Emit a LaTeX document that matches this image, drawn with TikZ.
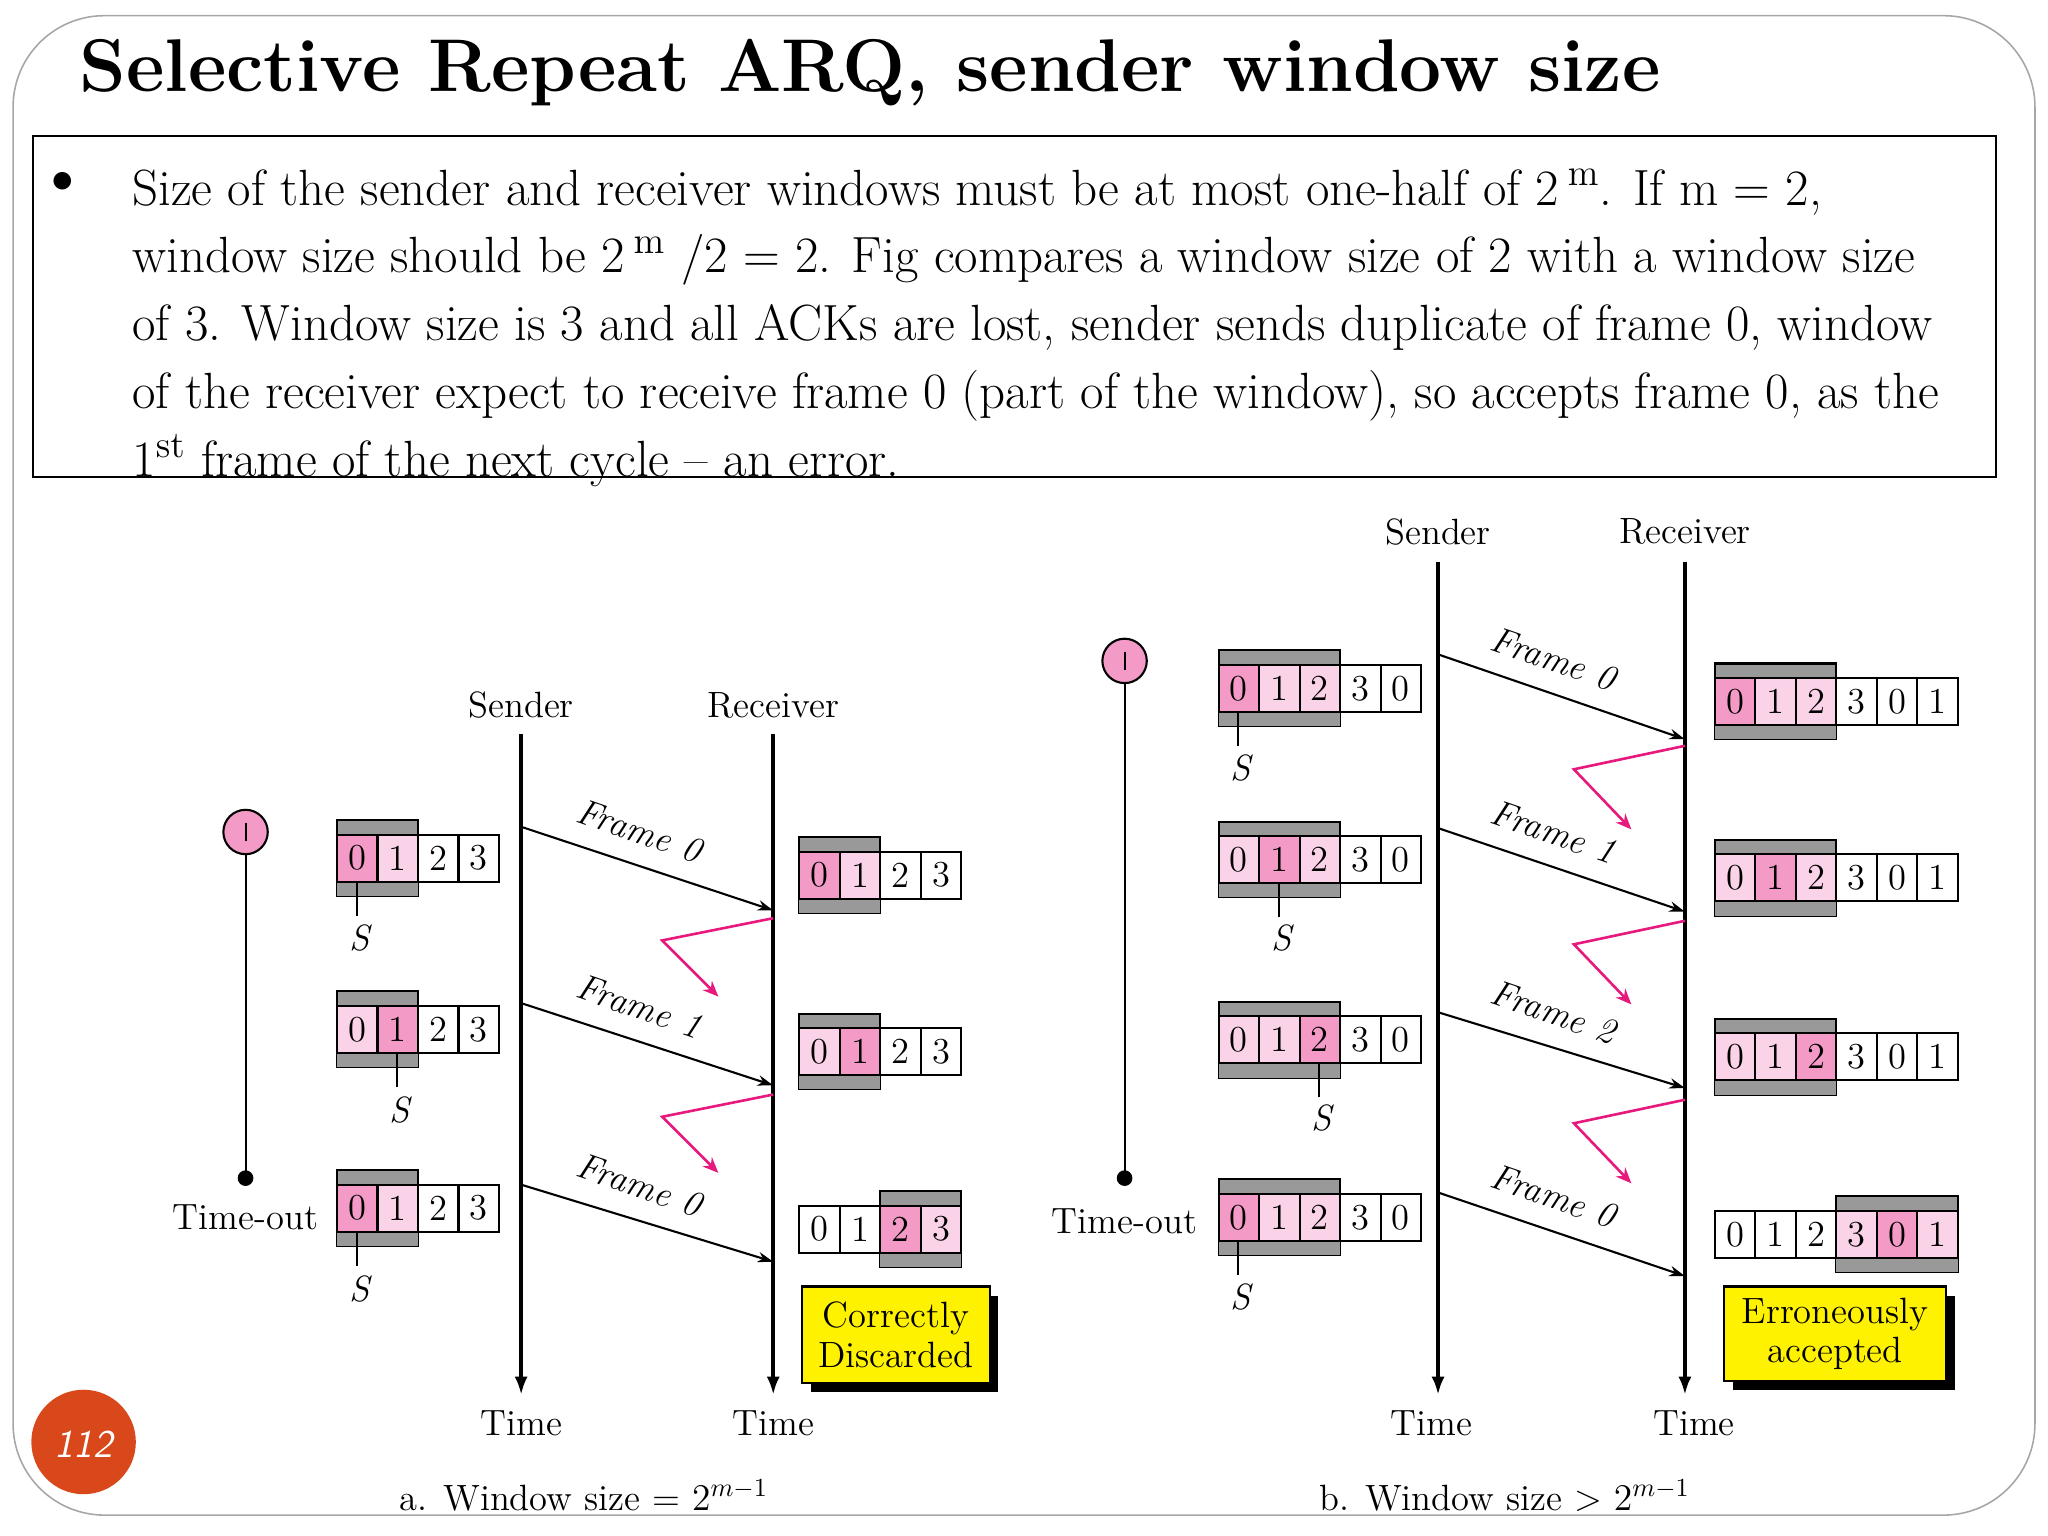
\documentclass[tikz,border=0pt]{standalone}
\usetikzlibrary{arrows.meta,calc}
\begin{document}
\definecolor{D}{HTML}{F39AC7}
\definecolor{L}{HTML}{FBD3E8}
\definecolor{W}{HTML}{FFFFFF}
\definecolor{barg}{HTML}{999999}
\definecolor{ackc}{HTML}{E8197D}
\definecolor{org}{HTML}{D9481B}
\newcommand\win[5]{%
  \fill[barg] ({#1+#4*31},{#2-29}) rectangle ({#1+#5*31},{#2-18});
  \draw[line width=0.8pt] ({#1+#4*31},{#2-29}) rectangle ({#1+#5*31},{#2+29});
  \fill[barg] ({#1+#4*31},{#2+18}) rectangle ({#1+#5*31},{#2+29});
  \foreach \t/\c [count=\i from 0] in {#3}{
    \draw[fill=\c,line width=0.8pt] ({#1+\i*31},{#2-18}) rectangle ({#1+\i*31+31},{#2+18});
    \node[dig] at ({#1+\i*31+15.5},#2) {\t};}
}
\newcommand\smark[4]{% x, y, idx, label y
  \draw[line width=0.8pt] ({#1+#3*31+15},{#2+18}) -- ({#1+#3*31+15},{#2+44});
  \node[font=\fontsize{14}{14}\selectfont\itshape] at ({#1+#3*31+17},#4) {S};}
\begin{tikzpicture}[x=0.5pt,y=-0.5pt,
  dig/.style={font=\fontsize{14}{14}\selectfont,inner sep=0pt},
  lab/.style={font=\fontsize{14}{14}\selectfont},
  tl/.style={line width=1.6pt,-{Latex[length=7pt,width=5pt]}},
  fr/.style={line width=0.8pt,-{Stealth[length=6pt,width=4pt]}},
  ack/.style={ackc,line width=1pt,-{Stealth[length=6pt,width=5pt]}},
  flab/.style={font=\fontsize{14}{14}\selectfont,rotate=-19,inner sep=1pt},
  note/.style={draw=black,fill=yellow,line width=0.8pt,align=center,font=\fontsize{14}{15}\selectfont,inner sep=2pt}]
\useasboundingbox (0,0) rectangle (1568,1176);
\draw[gray!70,line width=0.6pt,rounded corners=35pt] (10,12) rectangle (1558,1160);
\node[anchor=base west,font=\fontsize{28.6}{29}\selectfont\bfseries] (title) at (54,70) {Selective Repeat ARQ, sender window size};
\draw[line width=0.8pt] (25,104) rectangle (1528,365);
\node[font=\fontsize{16}{16}\selectfont] (bul) at (48,140) {$\bullet$};
\begin{scope}[every node/.style={anchor=base west,font=\fontsize{19.5}{16}\selectfont,inner sep=0pt}]
\node (l1) at (101,157) {Size of the sender and receiver windows must be at most one-half of 2\,$^{\mathrm{m}}$. If m = 2,};
\node (l2) at (101,209) {window size should be 2\,$^{\mathrm{m}}$ /2 = 2. Fig compares a window size of 2 with a window size};
\node (l3) at (101,261) {of 3. Window size is 3 and all ACKs are lost, sender sends duplicate of frame 0, window};
\node (l4) at (101,313) {of the receiver expect to receive frame 0 (part of the window), so accepts frame 0, as the};
\node (l5) at (101,365) {1$^{\mathrm{st}}$ frame of the next cycle -- an error.};
\end{scope}
\fill[org] (64,1104) circle (40);
\node[white,font=\fontsize{15}{15}\selectfont\sffamily\itshape] (pg) at (64,1106) {112};
% ---------- a ----------
\node[lab] (sa) at (399,540) {Sender};
\node[lab] (ra) at (592,540) {Receiver};
\coordinate (sat) at (399,562); \coordinate (sab) at (399,1068);
\coordinate (rat) at (592,562); \coordinate (rab) at (592,1068);
\draw[tl] (sat) -- (sab); \draw[tl] (rat) -- (rab);
\node[lab] (ta1) at (399,1090) {Time};
\node[lab] (ta2) at (592,1090) {Time};
\node[lab] (capa) at (447,1145) {a. Window size = $2^{m-1}$};
\foreach \ys/\ye/\t [count=\k] in {633/697/Frame 0,768/831/Frame 1,907/966/Frame 0}{
  \coordinate (fa\k s) at (399,\ys); \coordinate (fa\k e) at (592,\ye);
  \draw[fr] (fa\k s) -- (fa\k e);
  \node[flab] at ($(fa\k s)!0.5!(fa\k e)+(-6,-29)$) {\it \t};}
\foreach \y [count=\k] in {703,838}{
  \coordinate (aa\k) at (592,\y); \coordinate (ab\k) at (507,\y+17); \coordinate (ac\k) at (550,\y+60);
  \draw[ack] (aa\k) -- (ab\k) -- (ac\k);}
\win{258}{657}{0/D,1/L,2/W,3/W}{0}{2}\smark{258}{657}{0}{718}
\win{258}{788}{0/L,1/D,2/W,3/W}{0}{2}\smark{258}{788}{1}{850}
\win{258}{925}{0/D,1/L,2/W,3/W}{0}{2}\smark{258}{925}{0}{987}
\win{612}{670}{0/D,1/L,2/W,3/W}{0}{2}
\win{612}{805}{0/L,1/D,2/W,3/W}{0}{2}
\win{612}{941}{0/W,1/W,2/D,3/L}{2}{4}
\fill (621,992) rectangle (764,1066);
\node[note,minimum width=72pt,minimum height=37pt] (cd) at (686,1022) {Correctly\\Discarded};
\node[draw,fill=D,circle,minimum size=17pt,inner sep=0pt,line width=0.8pt] (tma) at (188,637) {};
\draw[line width=0.8pt] (188,630) -- (188,644);
\coordinate (tda) at (188,902);
\draw[line width=0.8pt] (tma) -- (tda); \fill (tda) circle (6);
\node[lab] (toa) at (188,932) {Time-out};
% ---------- b ----------
\node[lab] (sb) at (1101,407) {Sender};
\node[lab] (rb) at (1290,407) {Receiver};
\coordinate (sbt) at (1101,430); \coordinate (sbb) at (1101,1068);
\coordinate (rbt) at (1290,430); \coordinate (rbb) at (1290,1068);
\draw[tl] (sbt) -- (sbb); \draw[tl] (rbt) -- (rbb);
\node[lab] (tb1) at (1096,1090) {Time};
\node[lab] (tb2) at (1297,1090) {Time};
\node[lab] (capb) at (1152,1145) {b. Window size > $2^{m-1}$};
\foreach \ys/\ye/\t [count=\k] in {501/566/Frame 0,634/698/Frame 1,775/833/Frame 2,913/977/Frame 0}{
  \coordinate (fb\k s) at (1101,\ys); \coordinate (fb\k e) at (1290,\ye);
  \draw[fr] (fb\k s) -- (fb\k e);
  \node[flab] at ($(fb\k s)!0.5!(fb\k e)+(-6,-29)$) {\it \t};}
\foreach \y [count=\k] in {571,705,842}{
  \coordinate (ba\k) at (1290,\y); \coordinate (bb\k) at (1205,\y+18); \coordinate (bc\k) at (1249,\y+64);
  \draw[ack] (ba\k) -- (bb\k) -- (bc\k);}
\win{933}{527}{0/D,1/L,2/L,3/W,0/W}{0}{3}\smark{933}{527}{0}{588}
\win{933}{658}{0/L,1/D,2/L,3/W,0/W}{0}{3}\smark{933}{658}{1}{718}
\win{933}{796}{0/L,1/L,2/D,3/W,0/W}{0}{3}\smark{933}{796}{2}{856}
\win{933}{932}{0/D,1/L,2/L,3/W,0/W}{0}{3}\smark{933}{932}{0}{993}
\win{1313}{537}{0/D,1/L,2/L,3/W,0/W,1/W}{0}{3}
\win{1313}{672}{0/L,1/D,2/L,3/W,0/W,1/W}{0}{3}
\win{1313}{809}{0/L,1/L,2/D,3/W,0/W,1/W}{0}{3}
\win{1313}{945}{0/W,1/W,2/W,3/L,0/D,1/L}{3}{6}
\fill (1327,992) rectangle (1497,1064);
\node[note,minimum width=85pt,minimum height=36pt] (ea) at (1405,1021) {Erroneously\\accepted};
\node[draw,fill=D,circle,minimum size=17pt,inner sep=0pt,line width=0.8pt] (tmb) at (861,506) {};
\draw[line width=0.8pt] (861,499) -- (861,513);
\coordinate (tdb) at (861,902);
\draw[line width=0.8pt] (tmb) -- (tdb); \fill (tdb) circle (6);
\node[lab] (tob) at (861,935) {Time-out};
\end{tikzpicture}
\end{document}
